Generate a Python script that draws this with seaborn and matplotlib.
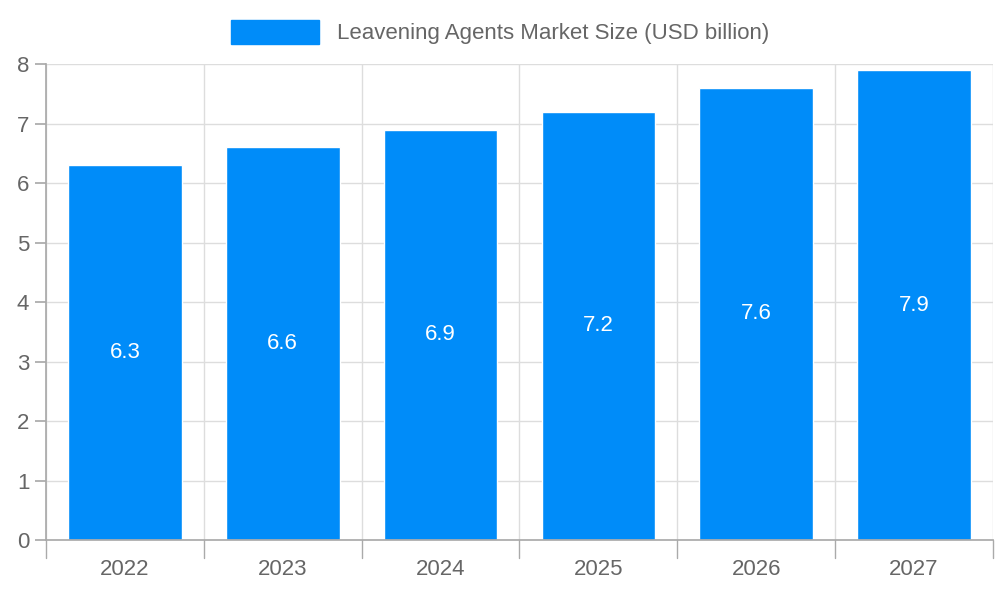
import matplotlib
matplotlib.use("Agg")
import matplotlib.pyplot as plt
import seaborn as sns
import pandas as pd
from matplotlib.patches import Patch

years = ["2022", "2023", "2024", "2025", "2026", "2027"]
values = [6.3, 6.6, 6.9, 7.2, 7.6, 7.9]
series_name = "Leavening Agents Market Size (USD billion)"

sns.set_theme(style="white")
plt.rcParams['font.family'] = ['Liberation Sans', 'DejaVu Sans']

fig = plt.figure(figsize=(10, 6), dpi=100)
ax = fig.add_axes([0.046, 0.1, 0.947, 0.793])
df = pd.DataFrame({"year": years, "value": values})
color = "#008cf9"
sns.barplot(data=df, x="year", y="value", color=color, width=0.72, saturation=1, ax=ax)

ax.set_xlim(-0.5, len(years) - 0.5)
ax.set_ylim(0, 8)
ax.set_yticks(range(0, 9))
for i in range(len(years) + 1):
    ax.axvline(i - 0.5, color="#dddddd", lw=1, zorder=0)
for y in range(1, 9):
    ax.axhline(y, color="#dddddd", lw=1, zorder=0)
ax.set_axisbelow(True)
for s in ["top", "right"]:
    ax.spines[s].set_visible(False)
for s in ["left", "bottom"]:
    ax.spines[s].set_color("#aaaaaa")
ax.set_xlabel("")
ax.set_ylabel("")
ax.tick_params(axis="x", length=0, labelsize=16, labelcolor="#666666", pad=14)
ax.tick_params(axis="y", length=8, color="#aaaaaa", labelsize=16, labelcolor="#666666", pad=4, left=True)
# x ticks at category boundaries (extended below)
for i in range(len(years) + 1):
    ax.plot([i - 0.5, i - 0.5], [0, -0.3], color="#aaaaaa", lw=1, clip_on=False)

for i, v in enumerate(values):
    ax.text(i, v / 2, f"{v}", ha="center", va="center", color="white", fontsize=16)

fig.legend(handles=[Patch(color=color)], labels=[series_name], loc="center",
           bbox_to_anchor=(0.5, 0.947), frameon=False, fontsize=16,
           handlelength=4, handleheight=1.3, labelcolor="#666666")
fig.savefig("out.png", dpi=100)
